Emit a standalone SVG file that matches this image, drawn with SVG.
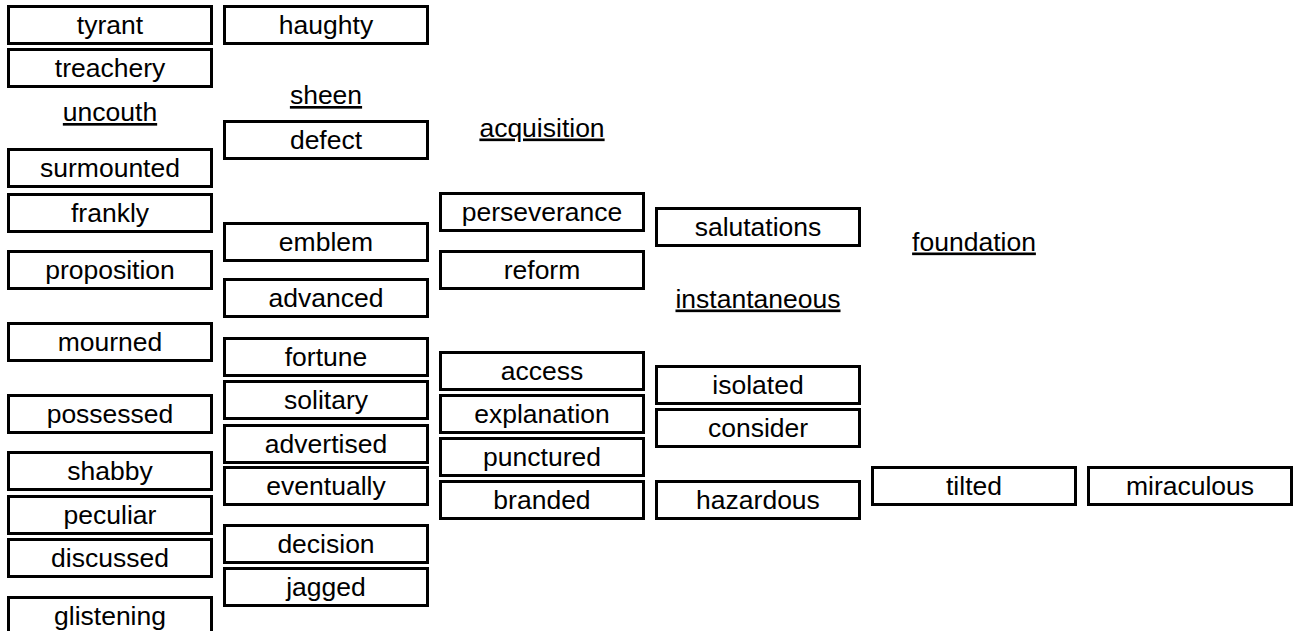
<svg xmlns="http://www.w3.org/2000/svg" width="1301" height="631" viewBox="0 0 1301 631">
<style>
.b rect{fill:#fff;stroke:#000;stroke-width:3}
text{font-family:"Liberation Sans",Arial,sans-serif;font-size:26.5px;fill:#000;text-anchor:middle}
.u{text-decoration:underline}
</style>
<rect width="1301" height="631" fill="#fff"/>
<g id="connectors"></g>
<g id="n-tyrant" class="b"><rect x="8.5" y="6.5" width="203" height="37"/><text x="110" y="33.5">tyrant</text></g>
<g id="n-treachery" class="b"><rect x="8.5" y="49.5" width="203" height="37"/><text x="110" y="76.5">treachery</text></g>
<g id="n-uncouth"><text class="u" x="110" y="121">uncouth</text></g>
<g id="n-surmounted" class="b"><rect x="8.5" y="149.5" width="203" height="37"/><text x="110" y="176.5">surmounted</text></g>
<g id="n-frankly" class="b"><rect x="8.5" y="194.5" width="203" height="37"/><text x="110" y="221.5">frankly</text></g>
<g id="n-proposition" class="b"><rect x="8.5" y="251.5" width="203" height="37"/><text x="110" y="278.5">proposition</text></g>
<g id="n-mourned" class="b"><rect x="8.5" y="323.5" width="203" height="37"/><text x="110" y="350.5">mourned</text></g>
<g id="n-possessed" class="b"><rect x="8.5" y="395.5" width="203" height="37"/><text x="110" y="422.5">possessed</text></g>
<g id="n-shabby" class="b"><rect x="8.5" y="452.5" width="203" height="37"/><text x="110" y="479.5">shabby</text></g>
<g id="n-peculiar" class="b"><rect x="8.5" y="496.5" width="203" height="37"/><text x="110" y="523.5">peculiar</text></g>
<g id="n-discussed" class="b"><rect x="8.5" y="539.5" width="203" height="37"/><text x="110" y="566.5">discussed</text></g>
<g id="n-glistening" class="b"><rect x="8.5" y="597.5" width="203" height="37"/><text x="110" y="624.5">glistening</text></g>

<g id="n-haughty" class="b"><rect x="224.5" y="6.5" width="203" height="37"/><text x="326" y="33.5">haughty</text></g>
<g id="n-sheen"><text class="u" x="326" y="104">sheen</text></g>
<g id="n-defect" class="b"><rect x="224.5" y="121.5" width="203" height="37"/><text x="326" y="148.5">defect</text></g>
<g id="n-emblem" class="b"><rect x="224.5" y="223.5" width="203" height="37"/><text x="326" y="250.5">emblem</text></g>
<g id="n-advanced" class="b"><rect x="224.5" y="279.5" width="203" height="37"/><text x="326" y="306.5">advanced</text></g>
<g id="n-fortune" class="b"><rect x="224.5" y="338.5" width="203" height="37"/><text x="326" y="365.5">fortune</text></g>
<g id="n-solitary" class="b"><rect x="224.5" y="381.5" width="203" height="37"/><text x="326" y="408.5">solitary</text></g>
<g id="n-advertised" class="b"><rect x="224.5" y="425.5" width="203" height="37"/><text x="326" y="452.5">advertised</text></g>
<g id="n-eventually" class="b"><rect x="224.5" y="467.5" width="203" height="37"/><text x="326" y="494.5">eventually</text></g>
<g id="n-decision" class="b"><rect x="224.5" y="525.5" width="203" height="37"/><text x="326" y="552.5">decision</text></g>
<g id="n-jagged" class="b"><rect x="224.5" y="568.5" width="203" height="37"/><text x="326" y="595.5">jagged</text></g>

<g id="n-acquisition"><text class="u" x="542" y="136.5">acquisition</text></g>
<g id="n-perseverance" class="b"><rect x="440.5" y="193.5" width="203" height="37"/><text x="542" y="220.5">perseverance</text></g>
<g id="n-reform" class="b"><rect x="440.5" y="251.5" width="203" height="37"/><text x="542" y="278.5">reform</text></g>
<g id="n-access" class="b"><rect x="440.5" y="352.5" width="203" height="37"/><text x="542" y="379.5">access</text></g>
<g id="n-explanation" class="b"><rect x="440.5" y="395.5" width="203" height="37"/><text x="542" y="422.5">explanation</text></g>
<g id="n-punctured" class="b"><rect x="440.5" y="438.5" width="203" height="37"/><text x="542" y="465.5">punctured</text></g>
<g id="n-branded" class="b"><rect x="440.5" y="481.5" width="203" height="37"/><text x="542" y="508.5">branded</text></g>

<g id="n-salutations" class="b"><rect x="656.5" y="208.5" width="203" height="37"/><text x="758" y="235.5">salutations</text></g>
<g id="n-instantaneous"><text class="u" x="758" y="307.5">instantaneous</text></g>
<g id="n-isolated" class="b"><rect x="656.5" y="366.5" width="203" height="37"/><text x="758" y="393.5">isolated</text></g>
<g id="n-consider" class="b"><rect x="656.5" y="409.5" width="203" height="37"/><text x="758" y="436.5">consider</text></g>
<g id="n-hazardous" class="b"><rect x="656.5" y="481.5" width="203" height="37"/><text x="758" y="508.5">hazardous</text></g>

<g id="n-foundation"><text class="u" x="974" y="250.5">foundation</text></g>
<g id="n-tilted" class="b"><rect x="872.5" y="467.5" width="203" height="37"/><text x="974" y="494.5">tilted</text></g>
<g id="n-miraculous" class="b"><rect x="1088.5" y="467.5" width="203" height="37"/><text x="1190" y="494.5">miraculous</text></g>
</svg>
